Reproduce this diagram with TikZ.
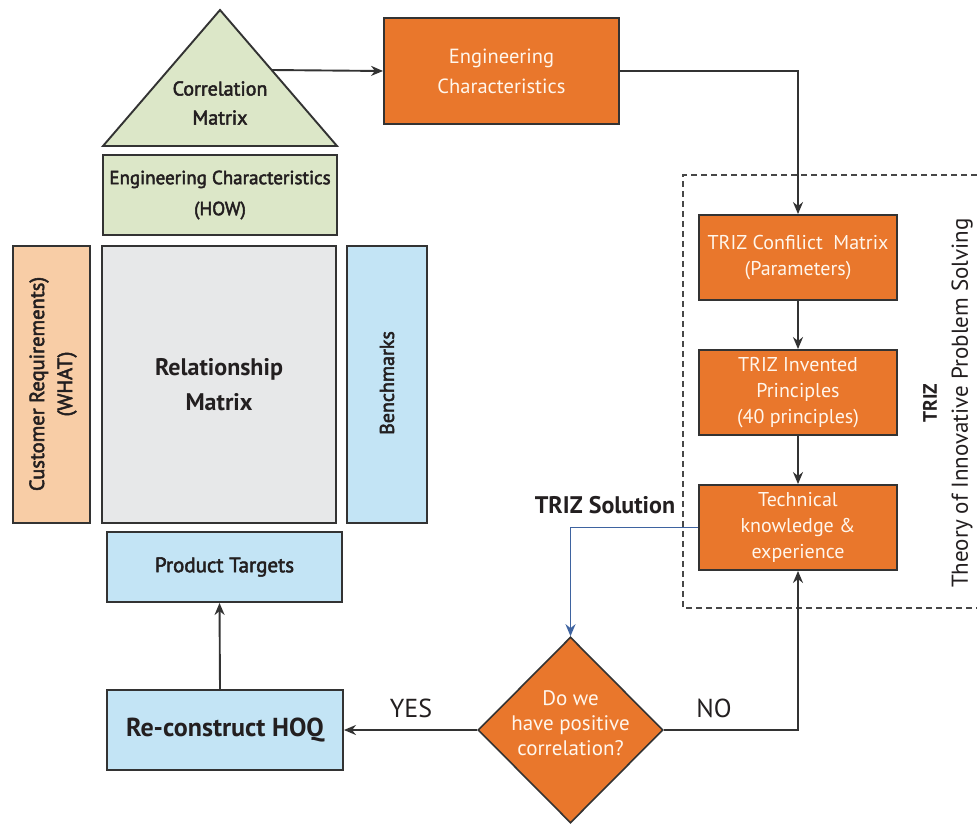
\documentclass[tikz,border=0pt]{standalone}
\usepackage{fontspec}
\setmainfont{PT Sans}
\newfontfamily\semib[FakeBold=2.5]{PT Sans}
\usetikzlibrary{arrows.meta,shapes.geometric}

\definecolor{edgegray}{HTML}{333333}
\definecolor{triorange}{HTML}{E9772C}
\definecolor{hoqgreen}{HTML}{DCE7C8}
\definecolor{hoqblue}{HTML}{C3E4F5}
\definecolor{hoqpeach}{HTML}{F8CDA6}
\definecolor{hoqgray}{HTML}{E7E8E9}
\definecolor{solblue}{HTML}{3E63A0}
\definecolor{inktext}{HTML}{231F20}
\definecolor{lighttext}{HTML}{FFF6EC}

\tikzset{
  box/.style={draw=edgegray, line width=1.9pt, inner sep=0pt, align=center, text=inktext},
  hoqbox/.style={box, font=\semib\fontsize{19}{31}\selectfont},
  triz/.style={box, fill=triorange, text=lighttext, font=\fontsize{20}{26}\selectfont},
  arr/.style={draw=edgegray, line width=1.9pt, -{Stealth[length=12pt,width=10pt]}},
  bluearr/.style={draw=solblue, line width=1.6pt, -{Stealth[length=12pt,width=10pt]}},
  lbl/.style={text=inktext, inner sep=0pt},
}

\begin{document}
\begin{tikzpicture}[x=1pt,y=-1pt]
\useasboundingbox[fill=white] (0,0) rectangle (977,825);

% TRIZ region outline (open on the right)
\draw[edgegray!90, line width=1.2pt, dash pattern=on 6pt off 4pt]
  (977,175) -- (683,175) -- (683,608) -- (977,608);

% house of quality: roof
\draw[draw=edgegray, line width=1.9pt, fill=hoqgreen, line join=miter]
  (220,10) -- (337,146) -- (103,146) -- cycle;
\node[lbl, align=center, font=\semib\fontsize{20}{29}\selectfont] (corr) at (220,103) {Correlation\\Matrix};
\coordinate (corrside) at (271.6,70);

\node[hoqbox, fill=hoqgreen, minimum width=234pt, minimum height=80pt] (how) at (220,195)
  {Engineering Characteristics\\(HOW)};

\node[hoqbox, fill=hoqpeach, minimum width=77pt, minimum height=277pt] (what) at (51.5,384.5) {};
\node[lbl, rotate=90, align=center, font=\semib\fontsize{20.5}{28}\selectfont] (whatlbl) at (53,384)
  {Customer Requirements)\\(WHAT)};

\node[box, fill=hoqgray, minimum width=234pt, minimum height=277pt,
  font=\bfseries\fontsize{24}{35}\selectfont] (rel) at (219,384.5) {Relationship\\Matrix};

\node[hoqbox, fill=hoqblue, minimum width=80pt, minimum height=277pt] (bench) at (387,384.5) {};
\node[lbl, rotate=90, font=\semib\fontsize{20}{24}\selectfont] (benchlbl) at (387,383) {Benchmarks};

\node[hoqbox, fill=hoqblue, minimum width=235pt, minimum height=70pt, font=\semib\fontsize{21}{26}\selectfont] (pt) at (224.5,567)
  {Product Targets};

\node[box, fill=hoqblue, minimum width=236pt, minimum height=80pt,
  font=\bfseries\fontsize{26}{30}\selectfont] (hoq) at (225,730) {Re-construct HOQ};

% TRIZ flow
\node[triz, minimum width=235pt, minimum height=106pt, font=\fontsize{20.5}{30}\selectfont] (ec) at (501.5,71)
  {Engineering\\Characteristics};
\node[triz, minimum width=198pt, minimum height=85pt] (c1) at (798,257.5)
  {TRIZ Confilict~ Matrix\\(Parameters)};
\node[triz, minimum width=198pt, minimum height=85pt] (c2) at (798,392.5)
  {TRIZ Invented\\Principles\\(40 principles)};
\node[triz, minimum width=198pt, minimum height=85pt] (tech) at (798,527.5)
  {Technical\\knowledge \&\\experience};

% decision diamond and its question
\node[draw=edgegray, line width=1.6pt, fill=triorange, diamond, minimum width=185pt, minimum height=186pt,
  inner sep=0pt] (dia) at (570.5,730) {};
\node[lbl, text=lighttext, align=center, font=\fontsize{21}{25}\selectfont] (dialbl) at (570.5,723)
  {Do we\\have positive\\correlation?};

\node[lbl, font=\bfseries\fontsize{24}{28}\selectfont] (sol) at (605,505) {TRIZ Solution};
\node[lbl, font=\fontsize{26}{30}\selectfont] (yes) at (411,708) {YES};
\node[lbl, font=\fontsize{26}{30}\selectfont] (no) at (714,708) {NO};

\node[lbl, rotate=90, font=\bfseries\fontsize{19.5}{24}\selectfont] (trizlbl) at (930,403) {TRIZ};
\node[lbl, rotate=90, font=\fontsize{23}{26}\selectfont] (trizlong) at (962,403)
  {Theory of Innovative Problem Solving};

% connectors
\draw[arr] (corrside) -- (ec.west);
\draw[arr] (ec.east) -| (c1.north);
\draw[arr] (c1.south) -- (c2.north);
\draw[arr] (c2.south) -- (tech.north);
\draw[bluearr] (tech.west) -| (dia.north);
\draw[arr] (dia.east) -| (tech.south);
\draw[arr] (dia.west) -- (hoq.east);
\draw[arr] ([xshift=-5pt]hoq.north) -- ([xshift=-5pt]pt.south);
\end{tikzpicture}
\end{document}
